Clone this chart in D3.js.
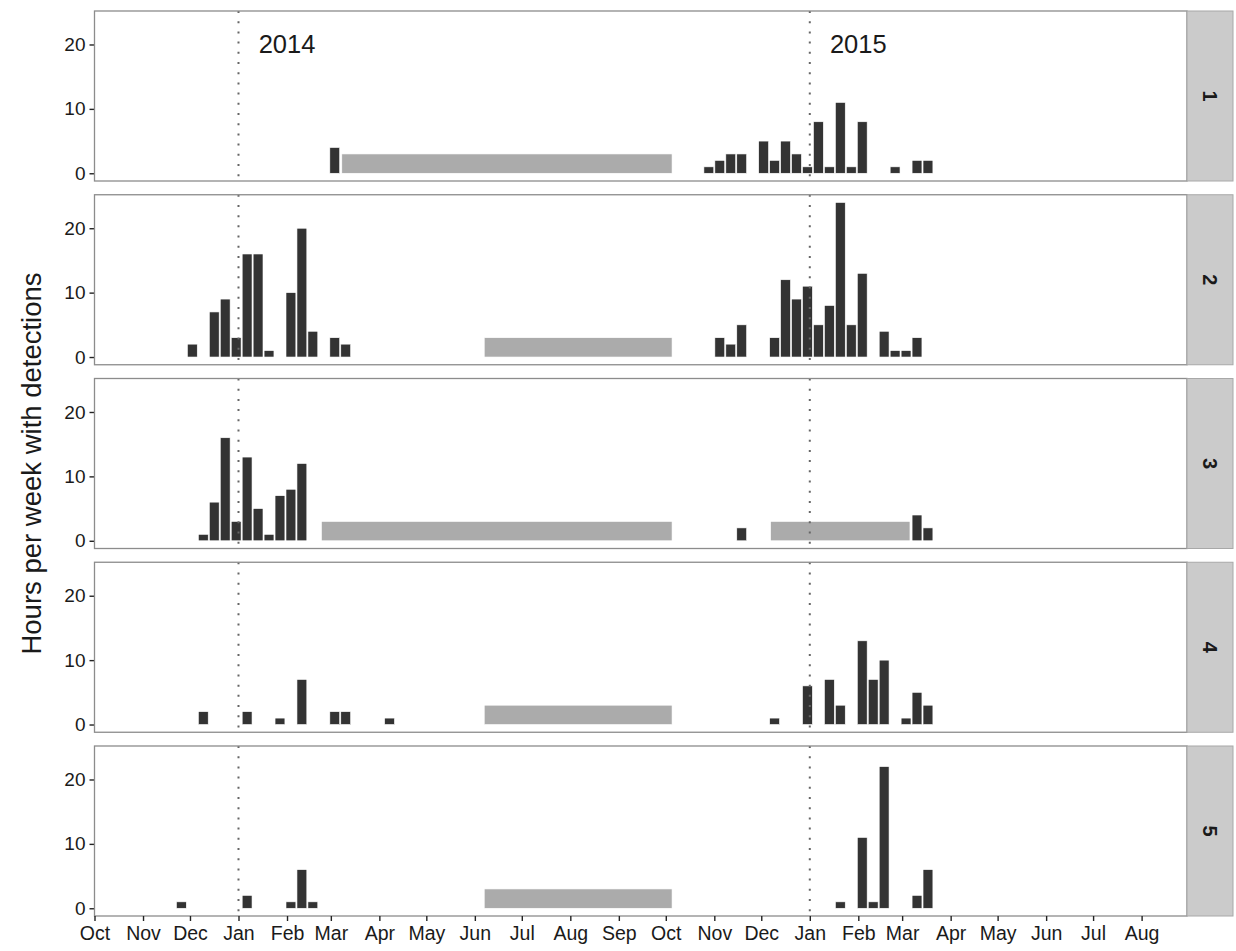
<!DOCTYPE html>
<html>
<head>
<meta charset="utf-8">
<script src="https://cdn.jsdelivr.net/npm/d3@7"></script>
<style>
  html, body { margin: 0; padding: 0; background: #fff; }
  svg { display: block; font-family: "Liberation Sans", Arial, sans-serif; }
</style>
</head>
<body>
<svg id="chart" width="1236" height="951"></svg>
<script>
// ---------- DATA ----------
const panelIds = ["1", "2", "3", "4", "5"];
// weekly bars: [week start, hours per week with detections]
const hours1 = [["2014-02-28",4],["2014-10-25",1],["2014-11-01",2],["2014-11-08",3],["2014-11-15",3],
  ["2014-11-29",5],["2014-12-06",2],["2014-12-13",5],["2014-12-20",3],["2014-12-27",1],["2015-01-03",8],
  ["2015-01-10",1],["2015-01-17",11],["2015-01-24",1],["2015-01-31",8],["2015-02-21",1],["2015-03-07",2],["2015-03-14",2]];
const hours2 = [["2013-11-29",2],["2013-12-13",7],["2013-12-20",9],["2013-12-27",3],["2014-01-03",16],
  ["2014-01-10",16],["2014-01-17",1],["2014-01-31",10],["2014-02-07",20],["2014-02-14",4],["2014-02-28",3],
  ["2014-03-07",2],["2014-11-01",3],["2014-11-08",2],["2014-11-15",5],["2014-12-06",3],["2014-12-13",12],
  ["2014-12-20",9],["2014-12-27",11],["2015-01-03",5],["2015-01-10",8],["2015-01-17",24],["2015-01-24",5],
  ["2015-01-31",13],["2015-02-14",4],["2015-02-21",1],["2015-02-28",1],["2015-03-07",3]];
const hours3 = [["2013-12-06",1],["2013-12-13",6],["2013-12-20",16],["2013-12-27",3],["2014-01-03",13],
  ["2014-01-10",5],["2014-01-17",1],["2014-01-24",7],["2014-01-31",8],["2014-02-07",12],["2014-11-15",2],
  ["2015-03-07",4],["2015-03-14",2]];
const hours4 = [["2013-12-06",2],["2014-01-03",2],["2014-01-24",1],["2014-02-07",7],["2014-02-28",2],
  ["2014-03-07",2],["2014-04-04",1],["2014-12-06",1],["2014-12-27",6],["2015-01-10",7],["2015-01-17",3],
  ["2015-01-31",13],["2015-02-07",7],["2015-02-14",10],["2015-02-28",1],["2015-03-07",5],["2015-03-14",3]];
const hours5 = [["2013-11-22",1],["2014-01-03",2],["2014-01-31",1],["2014-02-07",6],["2014-02-14",1],
  ["2015-01-17",1],["2015-01-31",11],["2015-02-07",1],["2015-02-14",22],["2015-03-07",2],["2015-03-14",6]];
// periods without recordings: [start, end]
const gaps1 = [["2014-03-08","2014-10-05"]];
const gaps2 = [["2014-06-07","2014-10-05"]];
const gaps3 = [["2014-02-23","2014-10-05"],["2014-12-07","2015-03-06"]];
const gaps4 = [["2014-06-07","2014-10-05"]];
const gaps5 = [["2014-06-07","2014-10-05"]];
const gapHeight = 3;
const yearLines = ["2014-01-01", "2015-01-01"];
const yearLabels = [["2014-02-01", "2014"], ["2015-02-01", "2015"]];
const yearLabelValue = 20;
const yTicks = [0, 10, 20];
const yMax = 24;
const xStart = "2013-10-01", xEnd = "2015-08-30";
const yTitle = "Hours per week with detections";

const hoursByPanel = [hours1, hours2, hours3, hours4, hours5];
const gapsByPanel = [gaps1, gaps2, gaps3, gaps4, gaps5];

// ---------- LAYOUT ----------
const parse = d3.utcParse("%Y-%m-%d");
const DAY = 86400000;
const left = 94.5, right = 1187, stripW = 46;
const top0 = 11, panelH = 170, panelStep = 183.75;

const svg = d3.select("#chart");
const x = d3.scaleUtc().domain([parse(xStart), parse(xEnd)]).range([left, right]);

const textCol = "#1a1a1a";

panelIds.forEach((id, i) => {
  const top = top0 + i * panelStep;
  const y = d3.scaleLinear().domain([-yMax * 0.05, yMax * 1.05]).range([top + panelH, top]);
  const g = svg.append("g");

  g.append("rect").attr("x", left).attr("y", top).attr("width", right - left).attr("height", panelH)
    .attr("fill", "#fff");

  g.selectAll("rect.gap").data(gapsByPanel[i]).join("rect").attr("class", "gap")
    .attr("x", d => x(parse(d[0])))
    .attr("width", d => x(parse(d[1])) - x(parse(d[0])))
    .attr("y", y(gapHeight)).attr("height", y(0) - y(gapHeight))
    .attr("fill", "#ababab").attr("stroke", "#fff").attr("stroke-width", 0.6);

  g.selectAll("rect.bar").data(hoursByPanel[i]).join("rect").attr("class", "bar")
    .attr("x", d => { const s = parse(d[0]).getTime(); return x(new Date(s + 0.35 * DAY)); })
    .attr("width", d => { const s = parse(d[0]).getTime(); return x(new Date(s + 6.65 * DAY)) - x(new Date(s + 0.35 * DAY)); })
    .attr("y", d => y(d[1])).attr("height", d => y(0) - y(d[1]))
    .attr("fill", "#333333").attr("stroke", "#fff").attr("stroke-width", 0.6);

  g.selectAll("line.yr").data(yearLines).join("line").attr("class", "yr")
    .attr("x1", d => x(parse(d))).attr("x2", d => x(parse(d)))
    .attr("y1", top).attr("y2", top + panelH)
    .attr("stroke", "#666").attr("stroke-width", 2).attr("stroke-dasharray", "2,8.2");

  if (i === 0) {
    g.selectAll("text.yl").data(yearLabels).join("text").attr("class", "yl")
      .attr("x", d => x(parse(d[0]))).attr("y", y(yearLabelValue))
      .attr("text-anchor", "middle").attr("dominant-baseline", "central")
      .attr("font-size", 25.5).attr("fill", textCol).text(d => d[1]);
  }

  const ya = g.append("g").attr("transform", `translate(${left},0)`)
    .call(d3.axisLeft(y).tickValues(yTicks).tickSize(5).tickPadding(4));
  ya.select(".domain").remove();
  ya.selectAll(".tick line").attr("stroke", "#222").attr("stroke-width", 1.4);
  ya.selectAll(".tick text").attr("font-size", 19).attr("fill", textCol)
    .attr("font-family", "Liberation Sans, Arial, sans-serif");

  g.append("rect").attr("x", left).attr("y", top).attr("width", right - left).attr("height", panelH)
    .attr("fill", "none").attr("stroke", "#8c8c8c").attr("stroke-width", 1.3);

  g.append("rect").attr("x", right).attr("y", top).attr("width", stripW).attr("height", panelH)
    .attr("fill", "#cbcbcb").attr("stroke", "#a8a8a8").attr("stroke-width", 1);
  g.append("text")
    .attr("transform", `translate(${right + stripW / 2},${top + panelH / 2}) rotate(90)`)
    .attr("text-anchor", "middle").attr("dominant-baseline", "central")
    .attr("font-size", 20).attr("font-weight", "bold").attr("fill", textCol).text(id);

  if (i === panelIds.length - 1) {
    const months = d3.utcMonths(parse(xStart), parse(xEnd));
    const xa = g.append("g").attr("transform", `translate(0,${top + panelH})`)
      .call(d3.axisBottom(x).tickValues(months).tickFormat(d3.utcFormat("%b")).tickSize(5).tickPadding(5));
    xa.select(".domain").remove();
    xa.selectAll(".tick line").attr("stroke", "#222").attr("stroke-width", 1.4);
    xa.selectAll(".tick text").attr("font-size", 19.5).attr("fill", textCol)
      .attr("font-family", "Liberation Sans, Arial, sans-serif");
  }
});

const midY = top0 + (panelStep * (panelIds.length - 1) + panelH) / 2;
svg.append("text")
  .attr("transform", `translate(31,${midY}) rotate(-90)`)
  .attr("text-anchor", "middle").attr("dominant-baseline", "central")
  .attr("font-size", 27.5).attr("fill", textCol).text(yTitle);
</script>
</body>
</html>
